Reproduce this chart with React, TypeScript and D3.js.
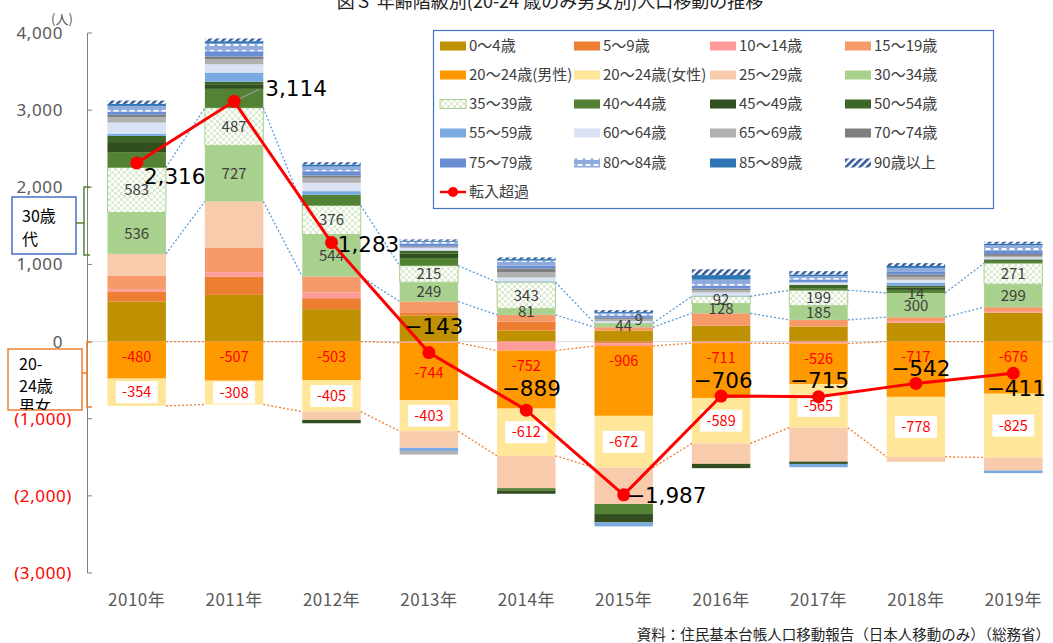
import React from "react";
import * as d3 from "d3";

const years = ["2010年", "2011年", "2012年", "2013年", "2014年", "2015年", "2016年", "2017年", "2018年", "2019年"];

// 年齢階級別 転入超過数（人）
const age0_4 = [520, 605, 420, 340, 143, 143, 207, 195, 246, 376];
const age5_9 = [130, 238, 143, 30, 117, -22, 0, 0, 0, 0];
const age10_14 = [30, 56, 73, -15, -117, -35, -20, -25, 20, 20];
const age15_19 = [177, 320, 208, 150, 86, 43, 160, 86, 50, 50];
const age20_24m = [-480, -507, -503, -744, -752, -906, -711, -526, -717, -676];
const age20_24f = [-354, -308, -405, -403, -612, -672, -589, -565, -778, -825];
const age25_29 = [280, 597, -108, -216, -419, -471, -265, -440, -64, -170];
const age30_34 = [536, 727, 544, 249, 81, 44, 128, 185, 300, 299];
const age35_39 = [583, 487, 376, 215, 343, 9, 92, 199, 14, 271];
const age40_44 = [200, 246, 138, 100, -30, -130, 0, 20, 40, 30];
const age45_49 = [130, 60, -43, 55, -43, -108, -56, -30, 30, 0];
const age50_54 = [80, 30, 0, 40, 0, 0, 0, 50, 25, 20];
const age55_59 = [30, 121, 48, -43, 10, -52, 10, -43, 35, -35];
const age60_64 = [143, 108, 108, 40, 52, 25, 40, 30, 40, 25];
const age65_69 = [70, 65, 65, -43, 65, 30, 30, 5, 40, 20];
const age70_74 = [30, 35, 30, 13, 52, 15, 20, 0, 30, 25];
const age75_79 = [43, 69, 56, 40, 35, 30, 40, 35, 40, 45];
const age80_84 = [73, 100, 60, 22, 65, 30, 75, 43, 45, 70];
const age85_89 = [26, 30, 26, 13, 20, 13, 60, 22, 25, 18];
const age90 = [43, 35, 30, 17, 22, 25, 75, 43, 37, 25];

const netMigration = [2316, 3114, 1283, -143, -889, -1987, -706, -715, -542, -411];

const yTicks = [4000, 3000, 2000, 1000, 0, -1000, -2000, -3000];

const series = [
  { key: "a0", label: "0～4歳", values: age0_4, fill: "#BF9000" },
  { key: "a5", label: "5～9歳", values: age5_9, fill: "#ED7D31" },
  { key: "a10", label: "10～14歳", values: age10_14, fill: "#FF9B9B" },
  { key: "a15", label: "15～19歳", values: age15_19, fill: "#F79A6A" },
  { key: "a20m", label: "20～24歳(男性)", values: age20_24m, fill: "#FF9900" },
  { key: "a20f", label: "20～24歳(女性)", values: age20_24f, fill: "#FFE699" },
  { key: "a25", label: "25～29歳", values: age25_29, fill: "#F8CBAD" },
  { key: "a30", label: "30～34歳", values: age30_34, fill: "#A9D18E" },
  { key: "a35", label: "35～39歳", values: age35_39, fill: "url(#chk)" },
  { key: "a40", label: "40～44歳", values: age40_44, fill: "#548235" },
  { key: "a45", label: "45～49歳", values: age45_49, fill: "#304E1E" },
  { key: "a50", label: "50～54歳", values: age50_54, fill: "#3D6527" },
  { key: "a55", label: "55～59歳", values: age55_59, fill: "#7BAAE0" },
  { key: "a60", label: "60～64歳", values: age60_64, fill: "#DAE3F3" },
  { key: "a65", label: "65～69歳", values: age65_69, fill: "#B0B0B0" },
  { key: "a70", label: "70～74歳", values: age70_74, fill: "#7F7F7F" },
  { key: "a75", label: "75～79歳", values: age75_79, fill: "#6A8ED4" },
  { key: "a80", label: "80～84歳", values: age80_84, fill: "url(#dash80)" },
  { key: "a85", label: "85～89歳", values: age85_89, fill: "#2E75B6" },
  { key: "a90", label: "90歳以上", values: age90, fill: "url(#hatch90)" },
];

// label placement tweaks (px)
const netLabelOffsets = [[38, 13], [62, -13], [37, 2], [5, -26], [5, -22], [43, 0], [2, -16], [1, -16], [5, -15], [3, 15]];
const maleLabelDy = [15, 15, 15, 30, 15, 15, 15, 15, 15, 15];

const W = 1053, H = 643;
const ja = '"Noto Sans CJK JP", "Noto Sans", sans-serif';
const num = '"DejaVu Sans", sans-serif';

const x = d3.scaleBand().domain(years).range([88, 1062]).paddingInner(0.4).paddingOuter(0.2);
const y = d3.scaleLinear().domain([-3000, 4000]).range([573, 33]);

const rows = years.map((yr, i) => {
  const r: any = { year: yr };
  series.forEach(s => { r[s.key] = s.values[i]; });
  return r;
});
const stacked = d3.stack().keys(series.map(s => s.key)).offset(d3.stackOffsetDiverging)(rows);
const byKey: any = {};
stacked.forEach(l => { byKey[l.key] = l; });

const fmtNet = (v: number) => (v < 0 ? "−" : "") + d3.format(",")(Math.abs(v));
const fmtAxis = (v: number) => (v < 0 ? `(${d3.format(",")(-v)})` : d3.format(",")(v));

function seriesLine(layer: any, edge: 0 | 1) {
  const segs: string[] = [];
  for (let i = 0; i < years.length - 1; i++) {
    const x1 = x(years[i])! + x.bandwidth();
    const x2 = x(years[i + 1])!;
    segs.push(`M${x1},${y(layer[i][edge])}L${x2},${y(layer[i + 1][edge])}`);
  }
  return segs.join("");
}

export default function App() {
  const bw = x.bandwidth();
  const cx = (i: number) => x(years[i])! + bw / 2;
  const netLine = d3.line<number>().x((_, i) => cx(i)).y(d => y(d))(netMigration)!;

  const legendCols = [440, 574, 710, 845];
  const legendRows = [46, 75, 104, 133, 163, 192];

  return (
    <svg width={W} height={H} style={{ position: "absolute", left: 0, top: 0, background: "#fff" }}>
      <defs>
        <pattern id="chk" width="6" height="6" patternUnits="userSpaceOnUse">
          <rect width="6" height="6" fill="#ffffff" />
          <rect width="3" height="3" fill="#DDEBD3" />
          <rect x="3" y="3" width="3" height="3" fill="#DDEBD3" />
        </pattern>
        <pattern id="dash80" width="8" height="6" patternUnits="userSpaceOnUse">
          <rect width="8" height="6" fill="#8FAADC" />
          <rect x="1.5" y="2" width="5" height="2" fill="#ffffff" />
        </pattern>
        <pattern id="hatch90" width="5" height="5" patternUnits="userSpaceOnUse" patternTransform="rotate(45)">
          <rect width="5" height="5" fill="#ffffff" />
          <rect width="2.5" height="5" fill="#2F5597" />
        </pattern>
        <clipPath id="boxClip">
          <rect x={8} y={349} width={74} height={61} />
        </clipPath>
      </defs>

      {/* title (top cut off as in the source) */}
      <text x={550} y={8} textAnchor="middle" fontFamily={ja} fontSize={18} fill="#222">
        図３ 年齢階級別(20-24 歳のみ男女別)人口移動の推移
      </text>

      {/* y axis */}
      <text x={51} y={19} dy="0.36em" fontFamily={ja} fontSize={13} fill="#595959">(人)</text>
      <line x1={87.5} x2={87.5} y1={y(4000)} y2={y(-3000)} stroke="#7F7F7F" />
      {yTicks.map(t => (
        <g key={t}>
          <line x1={87.5} x2={92} y1={y(t)} y2={y(t)} stroke="#7F7F7F" />
          <text x={t < 0 ? 72 : 63} y={y(t)} dy="0.35em" textAnchor="end" fontFamily="'Noto Sans', sans-serif"
            fontSize={17} letterSpacing={0.6} fill={t < 0 ? "#FF0000" : "#595959"}>{fmtAxis(t)}</text>
        </g>
      ))}
      <line x1={88} x2={W} y1={y(0)} y2={y(0)} stroke="#D6DCE4" />

      {/* stacked bars */}
      {stacked.map((layer, si) => (
        <g key={layer.key}>
          {layer.map((d, i) => {
            const h = y(d[0]) - y(d[1]);
            if (h <= 0) return null;
            return (
              <rect key={i} x={x(years[i])} y={y(d[1])} width={bw} height={h} fill={series[si].fill}
                stroke={series[si].key === "a35" ? "#A9D18E" : "none"} strokeWidth={1} />
            );
          })}
        </g>
      ))}

      {/* series lines */}
      <path d={seriesLine(byKey.a30, 0) + seriesLine(byKey.a35, 1)} fill="none" stroke="#5B9BD5" strokeWidth={1.3} strokeDasharray="2,2" />
      <path d={seriesLine(byKey.a20m, 1) + seriesLine(byKey.a20f, 0)} fill="none" stroke="#ED7D31" strokeWidth={1.3} strokeDasharray="2,2" />

      {/* segment labels */}
      {["a30", "a35"].map(k => byKey[k].map((d: any, i: number) => {
        const v = series.find(s => s.key === k)!.values[i];
        const nudge = k === "a35" && i === 5 ? [15, -4] : [0, 0];
        return (
          <text key={k + i} x={cx(i) + nudge[0]} y={(y(d[0]) + y(d[1])) / 2 + nudge[1]} dy="0.36em" textAnchor="middle"
            fontFamily={ja} fontSize={15} fill="#404040">{v}</text>
        );
      }))}
      {byKey.a20m.map((d: any, i: number) => (
        <text key={"m" + i} x={cx(i)} y={y(d[1]) + maleLabelDy[i]} dy="0.36em" textAnchor="middle"
          fontFamily={ja} fontSize={14.5} fill="#FF0000">{age20_24m[i]}</text>
      ))}
      {byKey.a20f.map((d: any, i: number) => {
        const my = (y(d[0]) + y(d[1])) / 2;
        return (
          <g key={"f" + i}>
            <rect x={cx(i) - 21} y={my - 11} width={42} height={22} fill="#fff" />
            <text x={cx(i)} y={my} dy="0.36em" textAnchor="middle" fontFamily={ja} fontSize={14.5} fill="#FF0000">{age20_24f[i]}</text>
          </g>
        );
      })}

      {/* net migration line */}
      <line x1={cx(1)} y1={y(netMigration[1])} x2={cx(1) + 25} y2={y(netMigration[1]) - 12} stroke="#A6A6A6" />
      <path d={netLine} fill="none" stroke="#FF0000" strokeWidth={3} />
      {netMigration.map((v, i) => (
        <circle key={i} cx={cx(i)} cy={y(v)} r={6.5} fill="#FF0000" />
      ))}
      {netMigration.map((v, i) => (
        <text key={"n" + i} x={cx(i) + netLabelOffsets[i][0]} y={y(v) + netLabelOffsets[i][1]} dy="0.36em"
          textAnchor="middle" fontFamily={num} fontSize={21.5} fill="#000">{fmtNet(v)}</text>
      ))}

      {/* x axis labels */}
      {years.map(yr => (
        <text key={yr} x={x(yr)! + bw / 2} y={600} dy="0.36em" textAnchor="middle" fontFamily={ja}
          fontSize={17} letterSpacing={0.5} fill="#595959">{yr}</text>
      ))}

      {/* 30歳代 annotation */}
      <rect x={12} y={197} width={64} height={57} fill="#fff" stroke="#4472C4" strokeWidth={1.5} />
      <text x={22} y={216} dy="0.36em" fontFamily={ja} fontSize={16} fill="#000">30歳</text>
      <text x={22} y={239} dy="0.36em" fontFamily={ja} fontSize={16} fill="#000">代</text>
      <path d="M90,187H84V255H90M76,223H84" fill="none" stroke="#548235" strokeWidth={1.5} />

      {/* 20-24歳男女 annotation */}
      <rect x={8} y={349} width={74} height={61} fill="#fff" stroke="#ED7D31" strokeWidth={1.5} />
      <g clipPath="url(#boxClip)">
        <text x={19} y={364} dy="0.36em" fontFamily={ja} fontSize={16} fill="#000">20-</text>
        <text x={19} y={386} dy="0.36em" fontFamily={ja} fontSize={16} fill="#000">24歳</text>
        <text x={19} y={406} dy="0.36em" fontFamily={ja} fontSize={16} fill="#000">男女</text>
      </g>
      <path d="M92,342H87V407H92M82,373H87" fill="none" stroke="#ED7D31" strokeWidth={1.5} />

      {/* legend */}
      <rect x={433.5} y={30.5} width={560} height={178} fill="#fff" stroke="#4472C4" strokeWidth={1.2} />
      {series.map((s, i) => {
        const lx = legendCols[i % 4], ly = legendRows[Math.floor(i / 4)];
        return (
          <g key={s.key}>
            <rect x={lx} y={ly - 4.5} width={26} height={9} fill={s.fill}
              stroke={s.key === "a35" ? "#A9D18E" : "none"} />
            <text x={lx + 29} y={ly} dy="0.36em" fontFamily={ja} fontSize={15} fill="#404040">{s.label}</text>
          </g>
        );
      })}
      <line x1={440} x2={466} y1={legendRows[5]} y2={legendRows[5]} stroke="#FF0000" strokeWidth={2.5} />
      <circle cx={453} cy={legendRows[5]} r={5} fill="#FF0000" />
      <text x={469} y={legendRows[5]} dy="0.36em" fontFamily={ja} fontSize={15} fill="#404040">転入超過</text>

      {/* source */}
      <text x={1050} y={640} textAnchor="end" fontFamily={ja} fontSize={14.5} fill="#222">
        資料：住民基本台帳人口移動報告（日本人移動のみ）（総務省）
      </text>
    </svg>
  );
}
